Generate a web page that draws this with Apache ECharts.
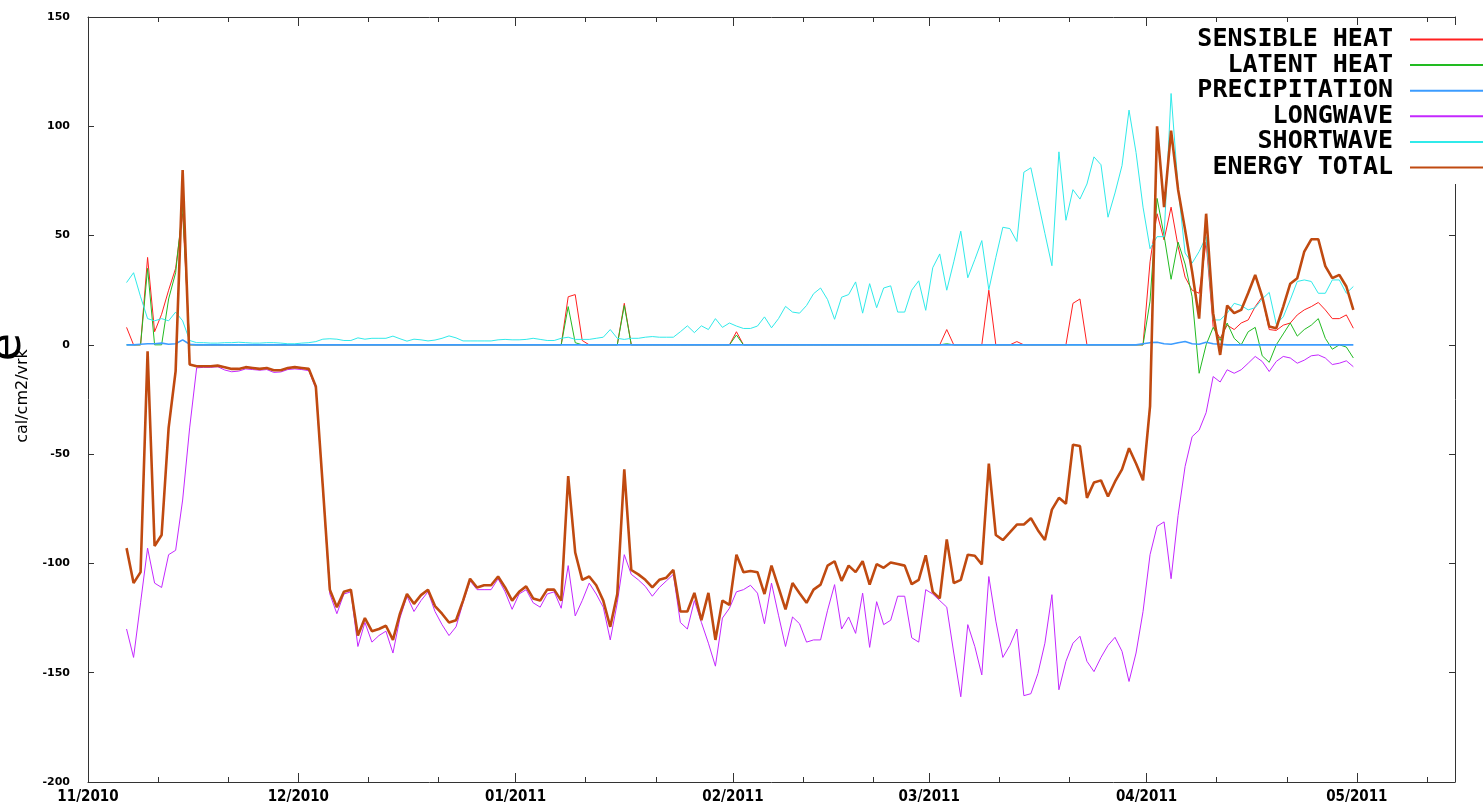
<!DOCTYPE html>
<html><head><meta charset="utf-8">
<script src="https://cdn.jsdelivr.net/npm/echarts@6/dist/echarts.min.js"></script>
<style>html,body{margin:0;padding:0;background:#fff}#c{width:1483px;height:806px}</style>
</head><body><div id="c"></div>
<script>
// Daily values from 2010-11-06 to 2011-04-30 (day index counted from 2010-11-01)
const firstDay = 5;
const seriesNames = ['SENSIBLE HEAT','LATENT HEAT','PRECIPITATION','LONGWAVE','SHORTWAVE','ENERGY TOTAL'];
const monthDays = [0,30,61,92,120,151,181];
const monthLabels = ['11/2010','12/2010','01/2011','02/2011','03/2011','04/2011','05/2011'];
const minorDays = [10,20,40,50,71,81,102,112,130,140,161,171,191];

const sensible = [
  8,0,0,40,6,14,25,35,60,0, 0,0,0,0,0,0,0,0,0,0, 0,0,0,0,0,
  0,0,0,0,0,0,0,0,0,0, 0,0,0,0,0,0,0,0,0,0, 0,0,0,0,0,0,0,0,0,0, 0,
  0,0,0,0,0,0,0,22,23,2, 0,0,0,0,0,19,0,0,0,0, 0,0,0,0,0,0,0,0,0,0, 0,
  6,0,0,0,0,0,0,0,0,0, 0,0,0,0,0,0,0,0,0,0, 0,0,0,0,0,0,0,0,
  0,0,7,0,0,0,0,0,25,0, 0,0,1.5,0,0,0,0,0,0,0, 19,21,0,0,0,0,0,0,0,0, 0,
  38,60,48,63,45,31,25,23.6,47,8.4, 3,9,7,10,11.4,17.5,22,7,6.6,9, 10,13.7,16,17.5,19.4,16,12,12,13.7,7.6
];
const latent = [
  0,0,0,35,0,0,21,33,63,0, 0,0,0,0,0,0,0,0,0,0, 0,0,0,0,0,
  0,0,0,0,0,0,0,0,0,0, 0,0,0,0,0,0,0,0,0,0, 0,0,0,0,0,0,0,0,0,0, 0,
  0,0,0,0,0,0,0,17.5,1,0, 0,0,0,0,0,18,0,0,0,0, 0,0,0,0,0,0,0,0,0,0, 0,
  4.5,0,0,0,0,0,0,0,0,0, 0,0,0,0,0,0,0,0,0,0, 0,0,0,0,0,0,0,0,
  0,0,0.5,0,0,0,0,0,0,0, 0,0,0,0,0,0,0,0,0,0, 0,0,0,0,0,0,0,0,0,0, 0,
  20,67,50,30,47,37,22,-13,0,8, 2,10,3,0,6,8,-5,-8,0,5, 10,4,7,9,12,3,-2,0,-1,-6
];
const precipitation = [
  0,0,0.3,0.5,0.5,0.8,0.3,0.5,2.3,0.3, 0,0,0,0,0,0,0,0,0,0, 0,0,0,0,0,
  0,0,0,0,0,0,0,0,0,0, 0,0,0,0,0,0,0,0,0,0, 0,0,0,0,0,0,0,0,0,0, 0,
  0,0,0,0,0,0,0,0,0,0, 0,0,0,0,0,0,0,0,0,0, 0,0,0,0,0,0,0,0,0,0, 0,
  0,0,0,0,0,0,0,0,0,0, 0,0,0,0,0,0,0,0,0,0, 0,0,0,0,0,0,0,0,
  0,0,0,0,0,0,0,0,0,0, 0,0,0,0,0,0,0,0,0,0, 0,0,0,0,0,0,0,0,0,0, 0.5,
  1,1.2,0.5,0.3,1,1.5,0.5,0.3,1.2,0.5, 0.3,0,0,0,0,0,0,0,0,0, 0,0,0,0,0,0,0,0,0,0
];
const longwave = [
  -130,-143,-118,-93,-109,-111,-96,-94,-71,-38, -10.5,-10.3,-10.3,-10,-11.5,-12.3,-12,-11,-11.3,-11.6, -11.3,-12.6,-12.4,-11.3,-11,
  -11.3,-11.8,-20,-66,-114,-123,-114,-113,-138,-127, -136,-133,-131,-141,-125,-115,-122,-117,-113,-122, -128,-133,-129,-118,-108,-112,-112,-112,-107,-113, -121,
  -114,-112,-118,-120,-114,-113,-120.5,-101,-124,-117, -109,-114,-120,-135,-118,-96,-105,-107.5,-110.5,-115, -111,-108,-105,-127,-130,-117,-127,-136.5,-147,-125, -120.5,
  -113,-112,-110,-113.6,-127.6,-109,-123.7,-138,-124.5,-127.6, -136,-135,-135,-121.4,-109.7,-130,-124.5,-132,-113.6,-138.4, -117.5,-128,-126,-115,-115,-134,-136,-112,
  -114,-117,-120,-141,-161,-128,-138,-151,-106,-126.4, -143,-137.5,-130,-160.5,-159.6,-150.4,-136.5,-114.3,-157.8,-144.8, -136.5,-133.3,-144.8,-149.5,-143,-137.5,-133.8,-140.2,-154,-141, -122,
  -96,-83,-81,-107,-78,-55.6,-42,-39,-31,-14.5, -17,-11.4,-13,-11.4,-8.4,-5.3,-7.6,-12.2,-7.6,-5.3, -6,-8.4,-7,-5,-4.6,-6,-9,-8.4,-7.3,-10
];
const shortwave = [
  28.5,33,22,12,11,12,11,15,11,2, 1,1,0.8,0.8,1,1,1.2,1,0.8,0.8, 1,1,0.8,0.5,0.5,
  0.8,1,1.5,2.6,2.8,2.6,2,2,3.2,2.6, 3,3,3,4,2.8,1.7,2.6,2.3,1.8,2.2, 3,4.1,3.2,1.8,1.8,1.8,1.8,1.8,2.3,2.5, 2.3,
  2.3,2.5,3,2.5,2,2,3,3.5,2.5,2.5, 2.5,3,3.5,7,3,2.5,3,3,3.5,3.8, 3.5,3.5,3.5,6,8.7,5.6,8.7,7,12,8, 10,
  8.6,7.5,7.5,8.6,12.8,7.8,12,17.6,15,14.5, 18,23.4,26,20.7,11.7,21.8,23,28.8,14.5,28, 17,26,27,15,15,25,29.3,15.8,
  35.3,41.6,25,38,52,30.7,39,47.7,25.2,40, 53.8,53.2,47.3,79,81,66,51,36.2,88.3,57, 71,66.7,73.6,86,82.4,58.4,69.5,82,107.4,88, 63,
  44,49.5,49.5,115,72,42,37.4,42.7,49.5,11.4, 11.4,14.5,19,18,16,17,21,24,9.5,12.8, 20.6,29,29.7,29,23.6,23.6,29.7,29.7,23.6,26.7
];
const energyTotal = [
  -93,-109,-104,-3,-92,-87,-38,-12,80,-9, -9.8,-9.8,-9.8,-9.5,-10.2,-11,-11,-10.2,-10.6,-11, -10.6,-11.6,-11.6,-10.6,-10.2,
  -10.6,-11,-19,-65,-112,-120,-113,-112,-133,-125, -131,-130,-128.5,-135,-123,-114,-118.5,-114.5,-112,-119.5, -123,-127,-126,-117,-107,-111,-110,-110,-106,-111, -117,
  -113,-110.5,-116,-117,-112,-112,-117,-60,-95,-107.5, -106,-110,-117,-129,-114,-57,-103,-105,-107.5,-111, -107.5,-106.5,-103,-122,-122,-113.5,-126,-113.5,-135,-117, -119,
  -96,-104,-103.5,-104,-114,-101,-111,-121,-109,-113.6, -118,-112,-109.7,-101,-99,-108,-101,-104,-99,-109.7, -100.3,-102,-99.6,-100.3,-101,-109.5,-107.5,-96.3,
  -113,-116,-89,-109,-107.5,-96,-96.5,-100.5,-54.3,-87, -89.3,-85.8,-82.2,-82.2,-79.3,-84.8,-89.3,-75.4,-70,-72.7, -45.7,-46.3,-70,-63,-62,-69.4,-62.6,-57,-47.3,-54.3, -62,
  -28,100,63,98,71,52.6,33.5,12,60,14.5, -4.6,18,14.5,16,23.7,32,22,8.4,7.6,17.5, 28,30.5,42.7,48.3,48.3,36,30.5,32,26.7,16
];

const colors = ['#ff2020','#22bb22','#3c9cff','#c428ff','#30eaea','#c04a10'];
const widths = [1,1,1.6,1,1,2.6];
const allData = [sensible, latent, precipitation, longwave, shortwave, energyTotal];
const toPoints = arr => arr.map((v, i) => [firstDay + i + 0.5, v]);

const chart = echarts.init(document.getElementById('c'), null, {renderer: 'canvas'});
const axisCol = '#333';
const baseX = {type: 'value', min: 0, max: 195, splitLine: {show: false}};
const lineOn = {show: true, onZero: false, lineStyle: {color: axisCol, width: 1}};
const lineOff = {show: false, onZero: false};
chart.setOption({
  animation: false,
  backgroundColor: '#fff',
  grid: {left: 88, right: 28, top: 17, bottom: 24, containLabel: false},
  xAxis: [
    Object.assign({}, baseX, {position: 'bottom', axisLine: lineOn,
      axisTick: {show: true, inside: true, length: 9, customValues: monthDays, lineStyle: {color: axisCol}},
      axisLabel: {show: true, customValues: monthDays, margin: 8, color: '#000',
        fontFamily: 'DejaVu Sans Condensed, DejaVu Sans', fontWeight: 'bold', fontSize: 15,
        formatter: v => monthLabels[monthDays.indexOf(Math.round(v))] || ''}}),
    Object.assign({}, baseX, {position: 'top', axisLine: lineOn,
      axisTick: {show: true, inside: true, length: 9, customValues: monthDays, lineStyle: {color: axisCol}},
      axisLabel: {show: false}}),
    Object.assign({}, baseX, {position: 'bottom', axisLine: lineOff,
      axisTick: {show: true, inside: true, length: 5, customValues: minorDays, lineStyle: {color: axisCol}},
      axisLabel: {show: false}}),
    Object.assign({}, baseX, {position: 'top', axisLine: lineOff,
      axisTick: {show: true, inside: true, length: 5, customValues: minorDays, lineStyle: {color: axisCol}},
      axisLabel: {show: false}})
  ],
  yAxis: [
    {type: 'value', position: 'left', min: -200, max: 150, interval: 50, splitLine: {show: false},
      axisLine: lineOn,
      axisTick: {show: true, inside: true, length: 6, lineStyle: {color: axisCol}},
      axisLabel: {color: '#000', fontFamily: 'DejaVu Sans', fontWeight: 'bold', fontSize: 11, margin: 18}},
    {type: 'value', position: 'right', min: -200, max: 150, interval: 50, splitLine: {show: false},
      axisLine: lineOn,
      axisTick: {show: true, inside: true, length: 6, lineStyle: {color: axisCol}},
      axisLabel: {show: false}}
  ],
  legend: {
    orient: 'vertical', right: 0, top: 25, align: 'right',
    itemWidth: 73, itemHeight: 2, itemGap: 0.6,
    backgroundColor: '#fff', padding: [2, 0, 4, 10], z: 10,
    textStyle: {fontFamily: 'DejaVu Sans Mono', fontWeight: 'bold', fontSize: 25, color: '#000', padding: [0, 12, 0, 0]},
    data: seriesNames.map((n, i) => ({name: n, icon: 'rect', itemStyle: {color: colors[i]}}))
  },
  graphic: [
    {type: 'text', left: -15, top: 333, rotation: Math.PI / 2, z: 10, style: {text: 'e', font: '46px DejaVu Sans', fill: '#000'}},
    {type: 'text', x: 23, y: 396, rotation: Math.PI / 2, z: 10, style: {text: 'cal/cm2/vrk', font: '16px DejaVu Sans', fill: '#000', align: 'center', verticalAlign: 'middle'}}
  ],
  series: seriesNames.map((n, i) => ({
    name: n, type: 'line', xAxisIndex: 0, yAxisIndex: 0,
    data: toPoints(allData[i]), showSymbol: false, symbol: 'none',
    lineStyle: {color: colors[i], width: widths[i]}, itemStyle: {color: colors[i]},
    z: 2 + i
  }))
});
</script></body></html>
